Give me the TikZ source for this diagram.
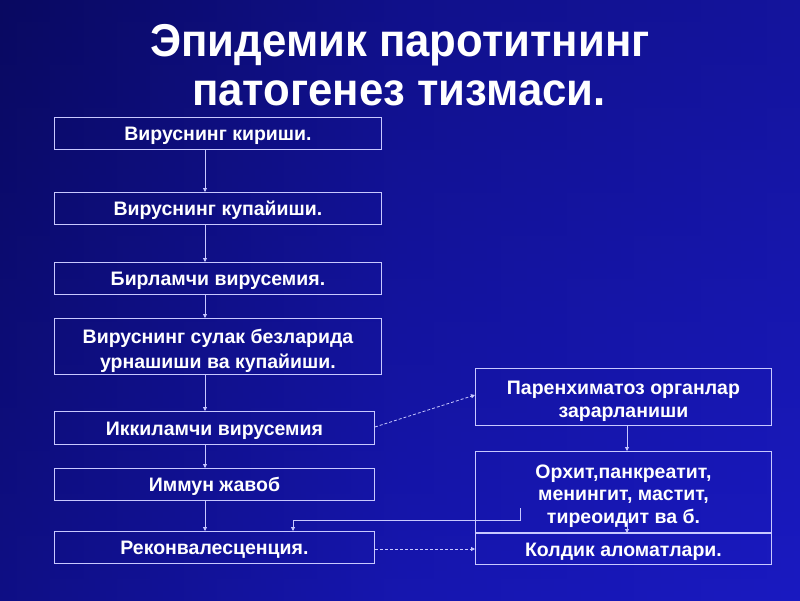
\documentclass[tikz,border=0pt]{standalone}
\usepackage{fontspec}
\setmainfont{Liberation Sans}
\newfontfamily\narrowfont[FakeStretch=0.95]{Liberation Sans}
\usetikzlibrary{arrows.meta}
\definecolor{bgmid}{RGB}{22,22,175}
\definecolor{bgdark}{RGB}{10,10,105}
\definecolor{bglight}{RGB}{28,28,205}
\definecolor{edge}{RGB}{200,200,255}
\tikzset{
  box/.style={draw=edge, line width=0.9pt, text=white, font=\fontsize{19.5}{25}\selectfont\bfseries, align=center, inner sep=0pt, anchor=north west,
    execute at begin node={\rule{0pt}{21pt}}, execute at end node={\rule[-6pt]{0pt}{0pt}}},
  frame/.style={draw=edge, line width=0.9pt, inner sep=0pt, anchor=north west},
  txt/.style={text=white, font=\fontsize{19.5}{25}\selectfont\bfseries, align=center, inner sep=0pt, anchor=center},
  rtxt/.style={txt, font=\fontsize{19.5}{22.5}\selectfont\bfseries},
  flow/.style={draw=edge, line width=0.8pt, -{Triangle[length=4pt,width=4pt]}},
  dflow/.style={flow, dash pattern=on 3pt off 2pt},
  ttl/.style={font=\narrowfont\fontsize{46}{50}\selectfont\bfseries, anchor=base, text=white}
}
\begin{document}
\begin{tikzpicture}[x=1pt,y=-1pt]
\useasboundingbox (0,0) rectangle (800,600);
\shade[left color=bgdark, right color=bglight, middle color=bgmid] (0,0) rectangle (800,600);
\shade[top color=bgdark!80!black, bottom color=bgmid, opacity=0.4] (0,0) rectangle (800,600);
% title
\node[ttl] (t1) at (400,56) {Эпидемик паротитнинг};
\node[ttl] (t2) at (399,105) {патогенез тизмаси.};
% left column
\node[box, minimum width=327pt, minimum height=32pt] (b1) at (54,117) {Вируснинг кириши.};
\node[box, minimum width=327pt, minimum height=32pt] (b2) at (54,192) {Вируснинг купайиши.};
\node[box, minimum width=327pt, minimum height=32pt] (b3) at (54,262) {Бирламчи вирусемия.};
\node[frame, minimum width=327pt, minimum height=56pt] (b4) at (54,318) {};
\node[txt] (b4t) at ([yshift=-4pt]b4.center) {Вируснинг сулак безларида\\урнашиши ва купайиши.};
\node[box, minimum width=320pt, minimum height=33pt] (b5) at (54,411) {Иккиламчи вирусемия};
\node[box, minimum width=320pt, minimum height=32pt] (b6) at (54,468) {Иммун жавоб};
\node[box, minimum width=320pt, minimum height=32pt] (b7) at (54,531) {Реконвалесценция.};
% right column
\node[frame, minimum width=296pt, minimum height=57pt] (r1) at (475,368) {};
\node[rtxt] (r1t) at ([yshift=-4.5pt]r1.center) {Паренхиматоз органлар\\зарарланиши};
\node[frame, minimum width=296pt, minimum height=81pt] (r2) at (475,451) {};
\node[rtxt] (r2t) at ([yshift=-4pt]r2.center) {Орхит,панкреатит,\\менингит, мастит,\\тиреоидит ва б.};
\node[box, minimum width=296pt, minimum height=31pt] (r3) at (475,533) {Колдик аломатлари.};
% connectors
\coordinate (x) at (205,0);
\draw[flow] (b1.south -| x) -- (b2.north -| x);
\draw[flow] (b2.south -| x) -- (b3.north -| x);
\draw[flow] (b3.south -| x) -- (b4.north -| x);
\draw[flow] (b4.south -| x) -- (b5.north -| x);
\draw[flow] (b5.south -| x) -- (b6.north -| x);
\draw[flow] (b6.south -| x) -- (b7.north -| x);
\coordinate (rx) at (627,0);
\draw[flow] (r1.south -| rx) -- (r2.north -| rx);
\draw[flow] ([yshift=14pt]r2.south -| rx) -- (r3.north -| rx);
\draw[dflow] ([yshift=-16pt]b5.north east) -- ([yshift=-27pt]r1.north west);
\draw[dflow] ([yshift=-18pt]b7.north east) -- ([yshift=-16pt]r3.north west);
\coordinate (s1) at (520,508);
\coordinate (s2) at (520,520);
\coordinate (s3) at (293,520);
\draw[flow] (s1) -- (s2) -- (s3) -- (s3 |- b7.north);
\end{tikzpicture}
\end{document}
